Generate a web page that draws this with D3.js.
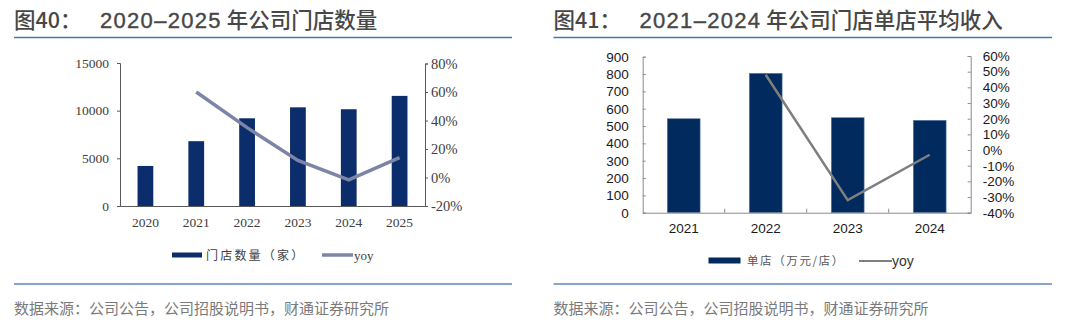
<!DOCTYPE html>
<html><head><meta charset="utf-8">
<script src="https://cdn.jsdelivr.net/npm/d3@7"></script>
<style>html,body{margin:0;padding:0;background:#fff;}svg{display:block;}</style>
</head><body><svg id="c" width="1080" height="336"></svg>
<script>
// ---- data ----
const storeYears = ["2020","2021","2022","2023","2024","2025"];
const storeCounts = [4200, 6800, 9200, 10350, 10150, 11550];
const storeYoy = [null, 0.60, 0.35, 0.12, -0.017, 0.14];
const storeLeftTicks = [0, 5000, 10000, 15000];
const storeRightTicks = [-0.2, 0, 0.2, 0.4, 0.6, 0.8];

const revYears = ["2021","2022","2023","2024"];
const revPerStore = [542, 804, 548, 533];
const revYoy = [null, 0.48, -0.32, -0.03];
const revLeftTicks = [0,100,200,300,400,500,600,700,800,900];
const revRightTicks = [-0.4,-0.3,-0.2,-0.1,0,0.1,0.2,0.3,0.4,0.5,0.6];

const title1 = ["图40：", "2020–2025", "年公司门店数量"];
const title2 = ["图41：", "2021–2024", "年公司门店单店平均收入"];
const sourceText = "数据来源：公司公告，公司招股说明书，财通证券研究所";
const legend1 = ["门店数量（家）", "yoy"];
const legend2 = ["单店（万元/店）", "yoy"];

const svg = d3.select("#c");
svg.append("rect").attr("width",1080).attr("height",336).attr("fill","#fff");
const cjk = "'Noto Sans CJK SC', 'Noto Sans', sans-serif";

// ---- headers/footers ----
function frame(x0, x1, t) {
  const g = svg.append("g");
  const tx = g.append("text").attr("y", 27.5).attr("font-weight", 500).attr("fill", "#474747");
  tx.append("tspan").attr("x", x0).attr("font-family", cjk).attr("font-size", 21.5).text(t[0]);
  tx.append("tspan").attr("x", x0 + 86).attr("font-family", "'Liberation Sans', Arial, sans-serif")
    .attr("font-weight", 400).attr("font-size", 22).attr("letter-spacing", 1.3).attr("stroke", "#474747")
    .attr("stroke-width", 0.4).text(t[1]);
  tx.append("tspan").attr("x", x0 + 212.7).attr("font-family", cjk).attr("font-size", 21.5).text(t[2]);
  g.append("line").attr("x1", x0).attr("x2", x1).attr("y1", 37.5).attr("y2", 37.5)
    .attr("stroke", "#4677b8").attr("stroke-width", 1.3);
  g.append("line").attr("x1", x0).attr("x2", x1).attr("y1", 284).attr("y2", 284)
    .attr("stroke", "#86a6d1").attr("stroke-width", 2);
  g.append("text").attr("x", x0).attr("y", 314).attr("font-family", cjk).attr("font-size", 15)
    .attr("fill", "#7a7a7a").text(sourceText);
}
frame(14, 512, title1);
frame(553.5, 1052, title2);

// ---- Chart 1 ----
(function(){
  const serif = "'Liberation Serif', 'Times New Roman', serif";
  const x = d3.scaleBand().domain(storeYears).range([120, 425]);
  const yL = d3.scaleLinear().domain([0, 15000]).range([206, 63]);
  const yR = d3.scaleLinear().domain([-0.2, 0.8]).range([206, 63.5]);
  const barColor = "#0c2d6b", lineColor = "#7c84a8";
  const bw = x.step() * 0.31;
  const g = svg.append("g");
  g.selectAll("rect.bar").data(storeYears).join("rect").attr("class","bar")
    .attr("x", d => x(d) + x.bandwidth()/2 - bw/2)
    .attr("width", bw)
    .attr("y", (d,i) => yL(storeCounts[i]))
    .attr("height", (d,i) => yL(0) - yL(storeCounts[i]))
    .attr("fill", barColor);
  const pts = storeYears.map((d,i)=>[d, storeYoy[i]]).filter(p => p[1] !== null);
  g.append("path").datum(pts)
    .attr("d", d3.line().x(p => x(p[0]) + x.bandwidth()/2).y(p => yR(p[1])))
    .attr("fill","none").attr("stroke", lineColor).attr("stroke-width", 3.5);

  const ax = g.append("g").attr("transform","translate(120,0)")
    .call(d3.axisLeft(yL).tickValues(storeLeftTicks).tickSize(3).tickPadding(8).tickFormat(d3.format("d")));
  const axr = g.append("g").attr("transform","translate(425,0)")
    .call(d3.axisRight(yR).tickValues(storeRightTicks).tickSize(3).tickPadding(3).tickFormat(d => Math.round(d*100) + "%"));
  const axb = g.append("g").attr("transform","translate(0,206)")
    .call(d3.axisBottom(x).tickSize(0).tickPadding(11));
  [ax, axr, axb].forEach(a => {
    a.select(".domain").attr("stroke", "#595959");
    a.selectAll(".tick line").attr("stroke", "#595959");
    a.selectAll("text").attr("font-family", serif).attr("font-size", 13.5).attr("fill", "#404040");
  });
  axr.selectAll("text").attr("font-size", 14.5);
  // legend
  g.append("rect").attr("x", 172).attr("y", 252.5).attr("width", 30).attr("height", 5).attr("fill", barColor);
  g.append("text").attr("x", 206).attr("y", 259.5).attr("font-family", cjk).attr("font-size", 12)
    .attr("letter-spacing", 2.2).attr("fill", "#404040").text(legend1[0]);
  g.append("line").attr("x1", 322).attr("x2", 353).attr("y1", 255).attr("y2", 255)
    .attr("stroke", lineColor).attr("stroke-width", 3.5);
  g.append("text").attr("x", 354).attr("y", 259.5).attr("font-family", serif).attr("font-size", 13)
    .attr("fill", "#404040").text(legend1[1]);
})();

// ---- Chart 2 ----
(function(){
  const sans = "'Liberation Sans', Arial, sans-serif";
  const x = d3.scaleBand().domain(revYears).range([642.7, 970.7]);
  const yL = d3.scaleLinear().domain([0, 900]).range([212.7, 56.7]);
  const yR = d3.scaleLinear().domain([-0.4, 0.6]).range([212.7, 56]);
  const barColor = "#012b5f", lineColor = "#7f7f7f";
  const bw = x.step() * 0.4;
  const g = svg.append("g");
  g.selectAll("rect.bar").data(revYears).join("rect").attr("class","bar")
    .attr("x", d => x(d) + x.bandwidth()/2 - bw/2)
    .attr("width", bw)
    .attr("y", (d,i) => yL(revPerStore[i]))
    .attr("height", (d,i) => yL(0) - yL(revPerStore[i]))
    .attr("fill", barColor).attr("stroke", "#5c7ba3").attr("stroke-width", 0.6);
  const pts = revYears.map((d,i)=>[d, revYoy[i]]).filter(p => p[1] !== null);
  g.append("path").datum(pts)
    .attr("d", d3.line().x(p => x(p[0]) + x.bandwidth()/2).y(p => yR(p[1])))
    .attr("fill","none").attr("stroke", lineColor).attr("stroke-width", 2.5);

  const ax = g.append("g").attr("transform","translate(642.7,0)")
    .call(d3.axisLeft(yL).tickValues(revLeftTicks).tickSize(-3).tickPadding(14).tickFormat(d3.format("d")));
  const axr = g.append("g").attr("transform","translate(970.7,0)")
    .call(d3.axisRight(yR).tickValues(revRightTicks).tickSize(-3).tickPadding(12).tickFormat(d => Math.round(d*100) + "%"));
  const axb = g.append("g").attr("transform","translate(0,212.7)")
    .call(d3.axisBottom(x).tickSize(0).tickPadding(11));
  g.selectAll("line.bt").data(revYears.slice(1)).join("line").attr("class","bt")
    .attr("x1", d => x(d)).attr("x2", d => x(d)).attr("y1", 212.7).attr("y2", 208.7)
    .attr("stroke", "#8c8c8c");
  [ax, axr, axb].forEach(a => {
    a.select(".domain").attr("stroke", "#8c8c8c");
    a.selectAll(".tick line").attr("stroke", "#8c8c8c");
    a.selectAll("text").attr("font-family", sans).attr("font-size", 13.5).attr("fill", "#1a1a1a");
  });
  axr.selectAll("text").attr("text-anchor", "start");
  // legend
  g.append("rect").attr("x", 708.5).attr("y", 257.5).attr("width", 32).attr("height", 6).attr("fill", barColor);
  g.append("text").attr("x", 747).attr("y", 265).attr("font-family", cjk).attr("font-size", 11.5)
    .attr("letter-spacing", 1.6).attr("fill", "#555").text(legend2[0]);
  g.append("line").attr("x1", 859).attr("x2", 892).attr("y1", 261).attr("y2", 261)
    .attr("stroke", lineColor).attr("stroke-width", 2);
  g.append("text").attr("x", 892).attr("y", 265.5).attr("font-family", sans).attr("font-size", 14)
    .attr("fill", "#333").text(legend2[1]);
})();
</script></body></html>
